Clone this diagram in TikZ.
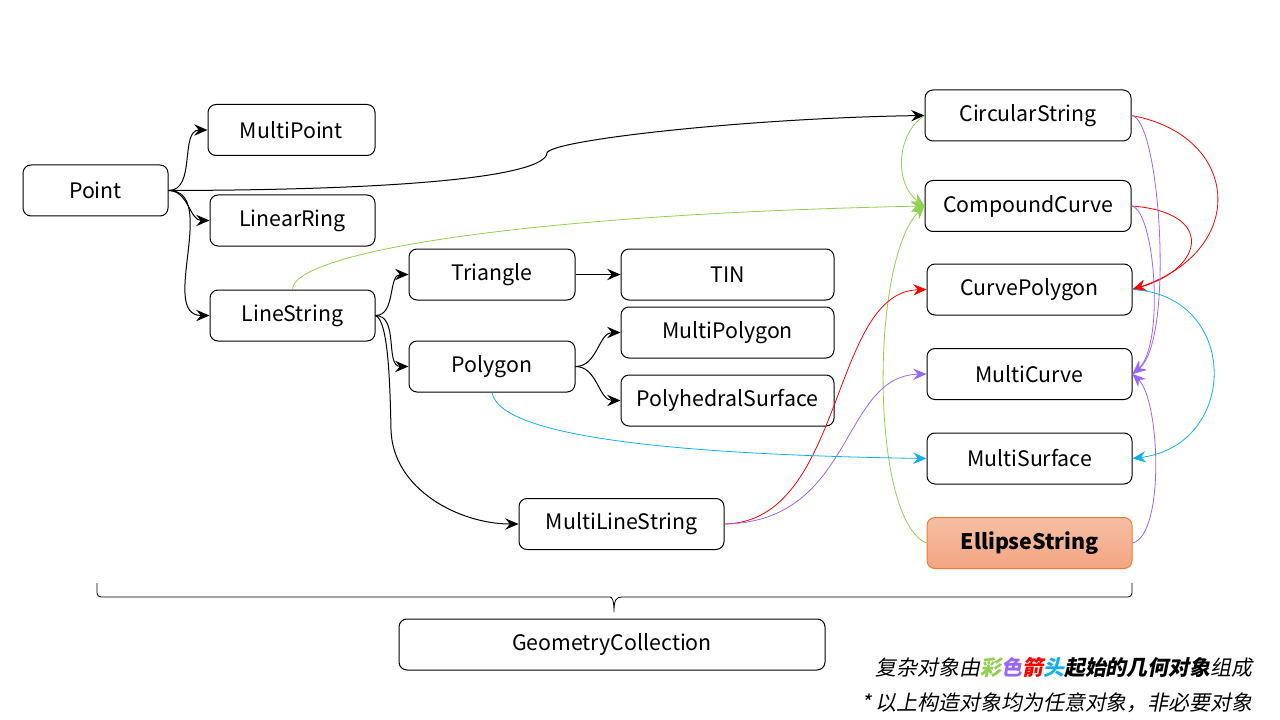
\documentclass[tikz,border=0pt]{standalone}
\usepackage{fontspec}
\setmainfont{Noto Sans CJK SC}
\newfontfamily\noteit[FakeSlant=0.2,BoldFeatures={FakeSlant=0.2}]{Noto Sans CJK SC}
\usetikzlibrary{arrows.meta}
\definecolor{cgreen}{HTML}{92D050}
\definecolor{cpurple}{HTML}{9966FF}
\definecolor{cred}{HTML}{FF0000}
\definecolor{cblue}{HTML}{10B0F0}
\definecolor{ellfill}{HTML}{F4A582}
\definecolor{ellfilltop}{HTML}{F5BFA5}
\definecolor{elldraw}{HTML}{ED7D31}

\begin{document}
\begin{tikzpicture}[x=0.75pt,y=0.75pt,line width=0.75pt,
          >={Stealth[length=10pt,width=8.5pt,inset=3.5pt]},
          obj/.style={draw,rounded corners=6pt,minimum height=38.25pt,inner sep=0pt,
            font=\fontsize{16}{18}\selectfont},
          gline/.style={->,cgreen,line width=0.6pt},
          pline/.style={->,cpurple,line width=0.6pt},
          rline/.style={->,cred,line width=0.6pt},
          bline/.style={->,cblue,line width=0.6pt}]
  \useasboundingbox (0,0) rectangle (1280,-720);
  \fill[white] (0,0) rectangle (1280,-720);
  % left part
  \node[obj,minimum width=108.75pt] (pt) at (95.5,-190.5) {Point};
  \node[obj,minimum width=125.25pt] (mpt) at (291.5,-130) {MultiPoint};
  \node[obj,minimum width=123.75pt] (lring) at (292.5,-220.5) {LinearRing};
  \node[obj,minimum width=123.75pt] (lstr) at (292.5,-315.5) {LineString};
  \node[obj,minimum width=124.5pt] (tri) at (492,-274.5) {Triangle};
  \node[obj,minimum width=124.5pt] (poly) at (492,-366.5) {Polygon};
  \node[obj,minimum width=159.75pt] (tin) at (727.5,-274.5) {TIN};
  \node[obj,minimum width=159.75pt] (mpoly) at (727.5,-332.5) {MultiPolygon};
  \node[obj,minimum width=159.75pt] (phs) at (727.5,-400.5) {PolyhedralSurface};
  \node[obj,minimum width=153.75pt] (mls) at (621.5,-524) {MultiLineString};
  % right column
  \node[obj,minimum width=154.5pt] (cstr) at (1028,-115.5) {CircularString};
  \node[obj,minimum width=154.5pt] (ccur) at (1028,-206) {CompoundCurve};
  \node[obj,minimum width=153.75pt] (cpoly) at (1029.5,-289.5) {CurvePolygon};
  \node[obj,minimum width=153.75pt] (mcur) at (1029.5,-374) {MultiCurve};
  \node[obj,minimum width=153.75pt] (msurf) at (1029.5,-458.5) {MultiSurface};
  \node[obj,minimum width=153.75pt,draw=elldraw,top color=ellfilltop,bottom color=ellfill,
    font=\fontsize{16}{18}\selectfont\bfseries] (ell) at (1029.5,-543) {EllipseString};
  \node[obj,minimum width=319.5pt] (gcol) at (612,-644.5) {GeometryCollection};

  % black arrows
  \draw[->] (pt.east) to[out=0,in=180] (mpt.west);
  \draw[->] (pt.east) to[out=0,in=180] (lring.west);
  \draw[->] (pt.east) to[out=0,in=180] (lstr.west);
  \draw[->] (pt.east) .. controls (420,-190) and (545,-175) .. (547,-153)
    .. controls (550,-140) and (750,-118) .. (cstr.west);
  \draw[->] (lstr.east) to[out=0,in=180] (tri.west);
  \draw[->] (lstr.east) to[out=0,in=180] (poly.west);
  \draw[->] (lstr.east) .. controls (388,-320) and (390,-380) .. (391,-430)
    .. controls (393,-490) and (460,-524) .. (mls.west);
  \draw[->] (tri.east) -- (tin.west);
  \draw[->] (poly.east) to[out=0,in=180] (mpoly.west);
  \draw[->] (poly.east) to[out=0,in=180] (phs.west);

  % colored arrows
  \draw[gline] (lstr.north) .. controls (292,-255) and (500,-215) .. (ccur.west);
  \draw[gline] (cstr.west) .. controls (895,-135) and (895,-185) .. (ccur.west);
  \draw[gline] (ell.west) .. controls (870,-520) and (870,-260) .. (ccur.west);
  \draw[rline] (mls.east) .. controls (845,-522) and (830,-292) .. (cpoly.west);
  \draw[rline] (cstr.east) .. controls (1240,-135) and (1250,-250) .. (cpoly.east);
  \draw[rline] (ccur.east) .. controls (1215,-212) and (1205,-268) .. (cpoly.east);
  \draw[pline] (mls.east) .. controls (855,-522) and (840,-376) .. (mcur.west);
  \draw[pline] (cstr.east) .. controls (1160,-118) and (1175,-340) .. (mcur.east);
  \draw[pline] (ccur.east) .. controls (1155,-210) and (1165,-345) .. (mcur.east);
  \draw[pline] (ell.east) .. controls (1165,-535) and (1160,-400) .. (mcur.east);
  \draw[bline] (poly.south) .. controls (500,-440) and (700,-455) .. (msurf.west);
  \draw[bline] (cpoly.east) .. controls (1240,-295) and (1240,-445) .. (msurf.east);

  % brace
  \draw[line width=0.6pt] (97,-583) [rounded corners=3pt] |- (606,-597) [sharp corners]
    .. controls (612,-597) and (614,-600) .. (614,-612)
    .. controls (614,-600) and (616,-597) .. (622,-597) [rounded corners=3pt] -| (1132,-583);

  % notes
  \node[anchor=east,inner sep=0pt,font=\noteit\fontsize{15.7}{18}\selectfont] (note1) at (1253,-668)
    {复杂对象由{\bfseries\color{cgreen}彩}{\bfseries\color{cpurple}色}{\bfseries\color{cred}箭}{\bfseries\color{cblue}头}{\bfseries 起始的几何对象}组成};
  \node[anchor=east,inner sep=0pt,font=\noteit\fontsize{15.7}{18}\selectfont] (note2) at (1253,-703)
    {* 以上构造对象均为任意对象，非必要对象};
\end{tikzpicture}
\end{document}
